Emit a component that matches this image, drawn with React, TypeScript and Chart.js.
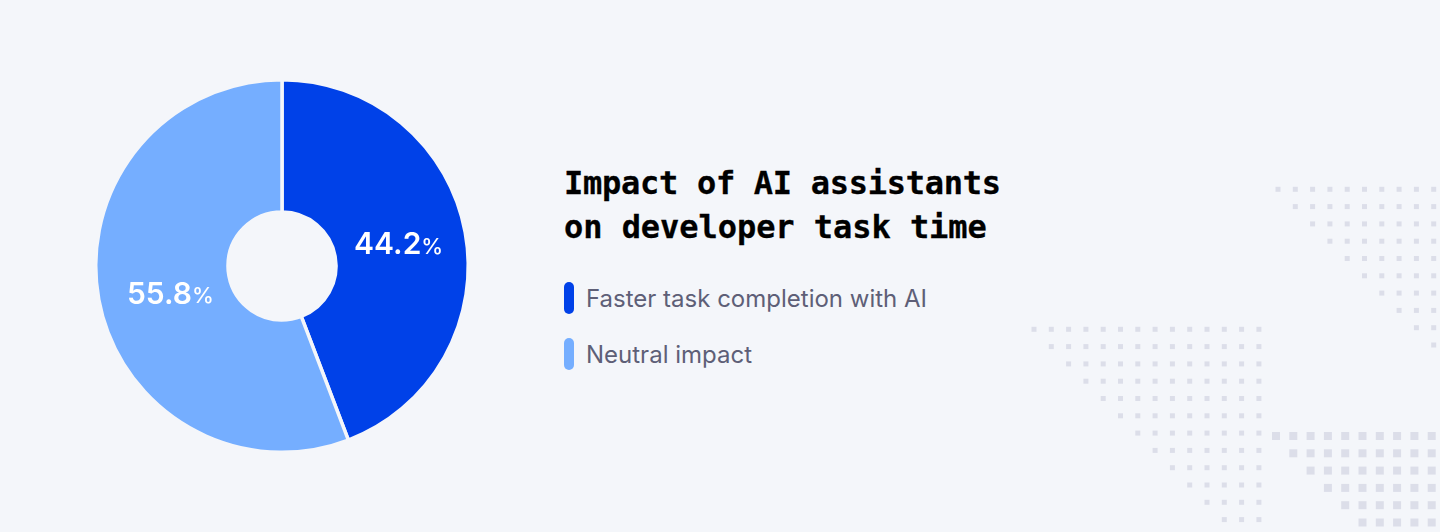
import React, { useRef, useEffect } from 'react';
import { Chart, registerables } from 'chart.js';

Chart.register(...registerables);

const labels = ['Faster task completion with AI', 'Neutral impact'];
const values = [44.2, 55.8];
const colors = ['#0041E8', '#75AEFF'];
const titleLines = ['Impact of AI assistants', 'on developer task time'];

const BG = '#F4F6FA';
const DOT = '#DCDEE9';
const STEP = 17.3;

// small shifts of the percent labels away from the arc centre
const labelShiftX = [-1.5, 6.5];
const labelShiftY = [1, 7];

// percent labels inside the slices
const sliceLabels = {
  id: 'sliceLabels',
  afterDatasetsDraw(chart: Chart) {
    const { ctx } = chart;
    const arcs = chart.getDatasetMeta(0).data;
    arcs.forEach((arc: any, i: number) => {
      const p = arc.getCenterPoint();
      const num = values[i].toFixed(1);
      const cx = p.x + labelShiftX[i];
      const cy = p.y + labelShiftY[i];
      ctx.save();
      ctx.fillStyle = '#FFFFFF';
      ctx.textBaseline = 'middle';
      ctx.font = '600 30px Inter';
      const w1 = ctx.measureText(num).width;
      ctx.font = '500 22px Inter';
      const w2 = ctx.measureText('%').width;
      const x = cx - (w1 + w2) / 2;
      ctx.font = '600 30px Inter';
      ctx.fillText(num, x, cy);
      ctx.font = '500 22px Inter';
      ctx.fillText('%', x + w1, cy + 2);
      ctx.restore();
    });
  },
};

const Dots: React.FC<{ x: number; y: number; cols: number; rows: number; size: number }> = ({ x, y, cols, rows, size }) => {
  const rects = [];
  for (let r = 0; r < rows; r++) {
    for (let c = r; c < cols; c++) {
      rects.push(<rect key={r + '-' + c} x={x + c * STEP - size / 2} y={y + r * STEP - size / 2} width={size} height={size} fill={DOT} />);
    }
  }
  return <g>{rects}</g>;
};

const DonutChart: React.FC = () => {
  const chartRef = useRef<HTMLCanvasElement>(null);

  useEffect(() => {
    if (!chartRef.current) return;
    const chart = new Chart(chartRef.current, {
      type: 'doughnut',
      data: {
        labels,
        datasets: [{ data: values, backgroundColor: colors, borderColor: BG, borderWidth: 3.5 }],
      },
      options: {
        responsive: false,
        animation: false,
        cutout: '29%',
        layout: { padding: 78 },
        plugins: { legend: { display: false }, tooltip: { enabled: false } },
      },
      plugins: [sliceLabels],
    });
    return () => chart.destroy();
  }, []);

  return <canvas ref={chartRef} width={564} height={532} style={{ position: 'absolute', left: 0, top: 0 }} />;
};

const App: React.FC = () => {
  return (
    <div style={{ position: 'fixed', inset: 0, width: 1440, height: 532, background: BG, overflow: 'hidden' }}>
      <svg width={1440} height={532} style={{ position: 'absolute', left: 0, top: 0 }}>
        <Dots x={1278} y={189.3} cols={10} rows={10} size={5} />
        <Dots x={1034} y={329.3} cols={14} rows={12} size={5} />
        <Dots x={1276} y={436} cols={10} rows={6} size={8} />
      </svg>
      <DonutChart />
      <div style={{ position: 'absolute', left: 564, top: 161, fontFamily: '"DejaVu Sans Mono"', fontWeight: 700, fontSize: 32, lineHeight: '44px', color: '#000', whiteSpace: 'nowrap', WebkitTextStroke: '0.3px #000' }}>
        {titleLines.map((t, i) => <div key={t} style={{ letterSpacing: i === 0 ? -0.28 : -0.05 }}>{t}</div>)}
      </div>
      {labels.map((l, i) => (
        <div key={l} style={{ position: 'absolute', left: 564, top: 282 + i * 56, height: 32, display: 'flex', alignItems: 'center' }}>
          <span style={{ width: 10, height: 32, borderRadius: 5, background: colors[i], marginRight: 12 }} />
          <span style={{ fontFamily: 'Inter', fontSize: 24, color: '#5E5F77', whiteSpace: 'nowrap' }}>{l}</span>
        </div>
      ))}
    </div>
  );
};

export default App;
